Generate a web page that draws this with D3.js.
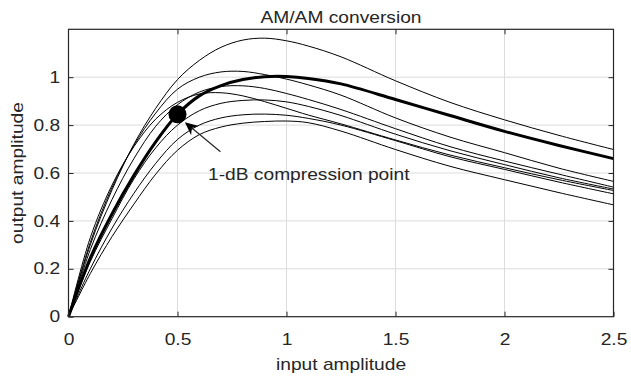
<!DOCTYPE html>
<html>
<head>
<meta charset="utf-8">
<script src="https://cdn.jsdelivr.net/npm/d3@7"></script>
<style>
  body { margin: 0; background: #fff; }
  svg { display: block; }
  text { font-family: "Liberation Sans", Arial, sans-serif; fill: #262626; }
</style>
</head>
<body>
<svg width="631" height="380"></svg>
<script>
// input amplitude samples
var xs = [0, 0.1, 0.2, 0.3, 0.4, 0.5, 0.6, 0.7, 0.8, 0.9, 1.0, 1.1, 1.25, 1.5, 1.75, 2.0, 2.25, 2.5];

// thin curves
var curveA = [0, 0.30, 0.53, 0.72, 0.87, 0.99, 1.07, 1.125, 1.155, 1.163, 1.152, 1.13, 1.085, 0.985, 0.895, 0.822, 0.757, 0.698];
var curveB = [0, 0.31, 0.54, 0.715, 0.85, 0.95, 1.0, 1.022, 1.024, 1.011, 0.992, 0.968, 0.925, 0.83, 0.75, 0.685, 0.62, 0.565];
var curveC = [0, 0.28, 0.49, 0.66, 0.795, 0.885, 0.938, 0.961, 0.964, 0.953, 0.932, 0.907, 0.865, 0.785, 0.71, 0.65, 0.595, 0.541];
var curveD = [0, 0.33, 0.55, 0.71, 0.825, 0.895, 0.93, 0.935, 0.922, 0.898, 0.87, 0.842, 0.805, 0.738, 0.675, 0.622, 0.572, 0.527];
var curveE = [0, 0.23, 0.41, 0.575, 0.705, 0.80, 0.86, 0.891, 0.903, 0.905, 0.897, 0.878, 0.84, 0.762, 0.693, 0.635, 0.58, 0.533];
var curveF = [0, 0.20, 0.37, 0.515, 0.64, 0.74, 0.80, 0.83, 0.843, 0.846, 0.841, 0.828, 0.80, 0.735, 0.668, 0.615, 0.562, 0.513];
var curveG = [0, 0.18, 0.335, 0.47, 0.595, 0.695, 0.76, 0.792, 0.808, 0.815, 0.817, 0.81, 0.775, 0.698, 0.628, 0.572, 0.518, 0.467];
// thick (nominal) curve
var curveNominal = [0, 0.245, 0.43, 0.59, 0.73, 0.845, 0.922, 0.965, 0.99, 1.002, 1.003, 0.995, 0.972, 0.907, 0.84, 0.774, 0.715, 0.66];

var xTicks = [0, 0.5, 1, 1.5, 2, 2.5];
var xTickLabels = ["0", "0.5", "1", "1.5", "2", "2.5"];
var yTicks = [0, 0.2, 0.4, 0.6, 0.8, 1];
var yTickLabels = ["0", "0.2", "0.4", "0.6", "0.8", "1"];

// 1-dB compression point and its annotation (data units)
var p1dB = [0.5, 0.845];
var arrowTail = [0.697, 0.689];
var arrowTip = [0.534, 0.812];
var noteAt = [0.64, 0.57];
var noteText = "1-dB compression point";

var plotL = 68.5, plotR = 613.5, plotT = 29.3, plotB = 316.7;
var stretch = 1.2;  // glyphs in the picture are wider than Arial

var svg = d3.select("svg");
var x = d3.scaleLinear().domain([0, 2.5]).range([plotL, plotR]);
var y = d3.scaleLinear().domain([0, 1.2]).range([plotB, plotT]);

// grid
svg.append("g")
    .attr("stroke", "#dcdcdc")
    .attr("stroke-width", 1)
  .selectAll("line")
  .data(xTicks.slice(1, -1))
  .join("line")
    .attr("x1", d => x(d)).attr("x2", d => x(d))
    .attr("y1", plotT).attr("y2", plotB);
svg.append("g")
    .attr("stroke", "#dcdcdc")
    .attr("stroke-width", 1)
  .selectAll("line")
  .data(yTicks.slice(1))
  .join("line")
    .attr("y1", d => y(d)).attr("y2", d => y(d))
    .attr("x1", plotL).attr("x2", plotR);

// curves
var line = d3.line()
    .x((d, i) => x(xs[i]))
    .y(d => y(d))
    .curve(d3.curveCatmullRom.alpha(0.5));

var thin = [curveA, curveB, curveC, curveD, curveE, curveF, curveG];
svg.append("g")
    .attr("fill", "none")
    .attr("stroke", "#000")
    .attr("stroke-width", 1)
  .selectAll("path")
  .data(thin)
  .join("path")
    .attr("d", line);

svg.append("path")
    .datum(curveNominal)
    .attr("fill", "none")
    .attr("stroke", "#000")
    .attr("stroke-width", 3)
    .attr("d", line);

// axes box and inward ticks
function styleAxis(g) {
  g.select(".domain").remove();
  g.selectAll(".tick line").attr("stroke", "#262626");
}
var bx = svg.append("g")
    .attr("transform", `translate(0,${plotB})`)
    .call(d3.axisBottom(x).tickValues(xTicks).tickFormat((d, i) => xTickLabels[i])
      .tickSize(-5).tickPadding(17))
    .call(styleAxis);
svg.append("g")
    .attr("transform", `translate(0,${plotT})`)
    .call(d3.axisTop(x).tickValues(xTicks.slice(1, -1)).tickFormat("").tickSize(-5))
    .call(styleAxis);
var ly = svg.append("g")
    .attr("transform", `translate(${plotL},0)`)
    .call(d3.axisLeft(y).tickValues(yTicks).tickFormat((d, i) => yTickLabels[i])
      .tickSize(-5).tickPadding(7))
    .call(styleAxis);
svg.append("g")
    .attr("transform", `translate(${plotR},0)`)
    .call(d3.axisRight(y).tickValues(yTicks.slice(1)).tickFormat("").tickSize(-5))
    .call(styleAxis);

[bx, ly].forEach(g => g.selectAll("text")
    .attr("font-family", "Liberation Sans, Arial, sans-serif")
    .attr("font-size", 16)
    .attr("fill", "#262626")
    .attr("transform", `scale(${stretch},1)`));

svg.append("rect")
    .attr("x", plotL).attr("y", plotT)
    .attr("width", plotR - plotL).attr("height", plotB - plotT)
    .attr("fill", "none")
    .attr("stroke", "#262626")
    .attr("stroke-width", 1.2);

// marker
svg.append("circle")
    .attr("cx", x(p1dB[0]))
    .attr("cy", y(p1dB[1]))
    .attr("r", 9)
    .attr("fill", "#000");

// arrow
var tx = x(arrowTail[0]), ty = y(arrowTail[1]);
var hx = x(arrowTip[0]), hy = y(arrowTip[1]);
var len = Math.hypot(hx - tx, hy - ty);
var ux = (hx - tx) / len, uy = (hy - ty) / len;
var nx = -uy, ny = ux;
var headL = 13, headW = 6, notch = 4;
var bxp = hx - ux * headL, byp = hy - uy * headL;
svg.append("line")
    .attr("x1", tx).attr("y1", ty)
    .attr("x2", hx - ux * (headL - notch)).attr("y2", hy - uy * (headL - notch))
    .attr("stroke", "#262626")
    .attr("stroke-width", 1.2);
svg.append("path")
    .attr("d", `M${hx},${hy}L${bxp + nx * headW},${byp + ny * headW}` +
      `L${hx - ux * (headL - notch)},${hy - uy * (headL - notch)}` +
      `L${bxp - nx * headW},${byp - ny * headW}Z`)
    .attr("fill", "#000");

svg.append("text")
    .attr("transform", `translate(${x(noteAt[0])},${y(noteAt[1])}) scale(${stretch},1)`)
    .attr("font-size", 16)
    .text(noteText);

// title and axis labels
svg.append("text")
    .attr("transform", `translate(${(plotL + plotR) / 2},23) scale(${stretch},1)`)
    .attr("text-anchor", "middle")
    .attr("font-size", 16)
    .text("AM/AM conversion");

svg.append("text")
    .attr("transform", `translate(${(plotL + plotR) / 2},370) scale(${stretch},1)`)
    .attr("text-anchor", "middle")
    .attr("font-size", 16)
    .text("input amplitude");

svg.append("text")
    .attr("transform", `translate(22.5,${(plotT + plotB) / 2}) rotate(-90) scale(${stretch},1)`)
    .attr("text-anchor", "middle")
    .attr("font-size", 16)
    .text("output amplitude");
</script>
</body>
</html>
